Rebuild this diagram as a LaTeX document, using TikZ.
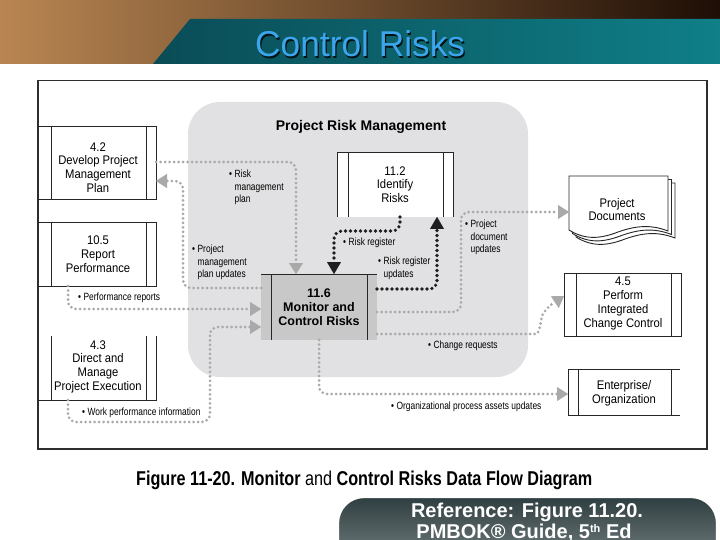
\documentclass[tikz,border=0pt]{standalone}
\usepackage{fontspec}
\setmainfont{Liberation Sans}
\newfontfamily\narrowf[FakeStretch=0.9]{Liberation Sans}
\newfontfamily\lblf[FakeStretch=0.8]{Liberation Sans}
\usetikzlibrary{arrows.meta}
\definecolor{flowgray}{HTML}{A9A9A9}
\definecolor{flowdark}{HTML}{1E1E1E}
\definecolor{regiongray}{HTML}{E1E1E3}
\definecolor{boxgray}{HTML}{C8C8C9}
\definecolor{framecol}{HTML}{2E2E2E}
\definecolor{tealA}{HTML}{0A4C56}
\definecolor{tealB}{HTML}{0F7F88}
\definecolor{titleblue}{HTML}{3CA6EC}
\definecolor{photoA}{HTML}{B98652}
\definecolor{photoB}{HTML}{A4642A}
\definecolor{photoC}{HTML}{1E0E06}
\definecolor{pilltop}{HTML}{2F3E40}
\definecolor{pillbot}{HTML}{9AA6A6}
\newcommand\bulletlabel[1]{\begin{tabular}[t]{@{}l@{\hspace{2.5pt}}l@{}}#1\end{tabular}}
\begin{document}
\begin{tikzpicture}[x=1pt,y=-1pt,
  boxline/.style={draw=black!85,line width=0.9pt},
  boxtext/.style={font=\narrowf\fontsize{12.5}{13.7}\selectfont,align=center,inner sep=0pt},
  boldbox/.style={font=\bfseries\fontsize{12.5}{14}\selectfont,align=center,inner sep=0pt},
  lbl/.style={font=\lblf\fontsize{10.5}{12.5}\selectfont,anchor=base west,inner sep=0pt},
  area/.style={inner sep=0pt,outer sep=0pt,draw=none},
  flow/.style={draw=flowgray,line width=3pt,line cap=round,dash pattern=on 0pt off 4.5pt,rounded corners=8pt,-{Triangle[width=14pt,length=11pt,line width=0.01pt]}},
  flowk/.style={flow,draw=flowdark,line width=3.6pt,dash pattern=on 0pt off 5pt,-{Triangle[width=14pt,length=12pt,line width=0.01pt]}},
]
\useasboundingbox (0,0) rectangle (720,540);
% header
\shade[left color=photoA, middle color=photoB, right color=photoC] (0,0) rectangle (720,64);
\shade[left color=tealA, right color=tealB] (190,19) -- (720,19) -- (720,64) -- (153,64) -- cycle;
\node[anchor=base west, inner sep=0, text=black!75!tealA] (titleshadow) at (256.2,58.2) {\resizebox{210pt}{26pt}{Control Risks}};
\node[anchor=base west, inner sep=0, text=titleblue] (title) at (255,57) {\resizebox{210pt}{26pt}{Control Risks}};
% frame and region
\draw[framecol, line width=1.2pt] (38,80.5) rectangle (707,449);
\fill[regiongray, rounded corners=32pt] (188,102) rectangle (528,377);
\node[font=\bfseries\fontsize{14}{16}\selectfont, inner sep=0] (prm) at (361,127) {Project Risk Management};
% box areas
\node[area, minimum width=118pt, minimum height=73pt] (b42) at (97,162.5) {};
\node[area, minimum width=118pt, minimum height=64pt] (b105) at (97,254) {};
\node[area, minimum width=118pt, minimum height=64pt] (b43) at (97,368) {};
\node[area, minimum width=116pt, minimum height=65pt] (b112) at (395,184.5) {};
\node[area, minimum width=116pt, minimum height=66pt] (b116) at (319,307) {};
\node[area, minimum width=99pt, minimum height=55pt] (docs) at (618.5,203.5) {};
\node[area, minimum width=117pt, minimum height=63pt] (b45) at (622.5,304.5) {};
\node[area, minimum width=112pt, minimum height=46pt] (ent) at (624,392) {};
% 4.2
\draw[boxline] (b42.north west) -- (b42.north east) -- (b42.south east) -- (b42.south west);
\draw[boxline] ([xshift=13pt]b42.north west) -- ([xshift=13pt]b42.south west);
\draw[boxline] ([xshift=-10pt]b42.north east) -- ([xshift=-10pt]b42.south east);
% 10.5
\draw[boxline] (b105.north west) -- (b105.north east) -- (b105.south east) -- (b105.south west);
\draw[boxline] ([xshift=13pt]b105.north west) -- ([xshift=13pt]b105.south west);
\draw[boxline] ([xshift=-10pt]b105.north east) -- ([xshift=-10pt]b105.south east);
% 4.3
\draw[boxline] (b43.north east) -- (b43.south east) -- (b43.south west);
\draw[boxline] ([xshift=13pt]b43.north west) -- ([xshift=13pt]b43.south west);
\draw[boxline] ([xshift=-10pt]b43.north east) -- ([xshift=-10pt]b43.south east);
% 11.2
\fill[white] (b112.north west) rectangle (b112.south east);
\draw[boxline] (b112.south west) -- (b112.north west) -- (b112.north east) -- (b112.south east);
\draw[boxline] ([xshift=11pt]b112.north west) -- ([xshift=11pt]b112.south west);
\draw[boxline] ([xshift=-10pt]b112.north east) -- ([xshift=-10pt]b112.south east);
% 11.6
\fill[boxgray] (b116.north west) rectangle (b116.south east);
\draw[boxline] (b116.north west) -- (b116.north east);
\draw[boxline] ([xshift=10pt]b116.north west) -- ([xshift=10pt]b116.south west);
\draw[boxline] ([xshift=-10pt]b116.north east) -- ([xshift=-10pt]b116.south east);
% project documents
\foreach \s in {7,3.5,0}{
  \draw[boxline, fill=white, shift={(\s,\s)}] (569,176) -- (668,176) -- (668,231) .. controls (650,224) and (635,226) .. (618,232) .. controls (600,239) and (585,240) .. (569,230) -- cycle;
}
% 4.5
\draw[boxline] (b45.north west) rectangle (b45.south east);
\draw[boxline] ([xshift=12pt]b45.north west) -- ([xshift=12pt]b45.south west);
\draw[boxline] ([xshift=-10pt]b45.north east) -- ([xshift=-10pt]b45.south east);
% enterprise
\draw[boxline] (ent.north east) -- (ent.north west) -- (ent.south west) -- (ent.south east);
\draw[boxline] ([xshift=10pt]ent.north west) -- ([xshift=10pt]ent.south west);
\draw[boxline] ([xshift=-9pt]ent.north east) -- ([xshift=-9pt]ent.south east);
% box texts
\node[boxtext] (t42) at (98,167.5) {4.2\\Develop Project\\Management\\Plan};
\node[boxtext] (t105) at (98,254) {10.5\\Report\\Performance};
\node[boxtext] (t43) at (98,366.5) {4.3\\Direct and\\Manage\\Project Execution};
\node[boxtext] (t112) at (395,184.5) {11.2\\Identify\\Risks};
\node[boldbox] (t116) at (319,307) {11.6\\Monitor and\\Control Risks};
\node[boxtext] (tdocs) at (617,209.5) {Project\\Documents};
\node[boxtext] (t45) at (623,303.5) {4.5\\Perform\\Integrated\\Change Control};
\node[boxtext] (tent) at (624,393.5) {Enterprise/\\Organization};
% connectors
\draw[flow] (b42.east |- 0,162) -- (296,162) -- (296,0 |- b116.north);
\draw[flow] (b116.west |- 0,288) -- (183,288) -- (183,181) -- (b42.east |- 0,181);
\draw[flow] (68,0 |- b105.south) -- (68,309) -- (b116.west |- 0,309);
\draw[flow] (68,0 |- b43.south) -- (68,422) -- (210,422) -- (210,327) -- (b116.west |- 0,327);
\draw[flowk] (400,0 |- b112.south) -- (400,231) -- (334,231) -- (334,0 |- b116.north);
\draw[flowk] (b116.east |- 0,289) -- (437,289) -- (437,0 |- b112.south);
\draw[flow] (b116.east |- 0,312) -- (461,312) -- (461,212) -- (docs.west |- 0,212);
\draw[flow] (b116.east |- 0,334) -- (528,334) .. controls (540,334) and (541,318) .. (546,308) -- (b45.west |- 0,296);
\draw[flow] (319,0 |- b116.south) -- (319,394) -- (ent.west |- 0,394);
% labels
\node[lbl] (lrmp) at (229,177.6) {\bulletlabel{\textbullet & Risk\\ & management\\ & plan}};
\node[lbl] (lpmpu) at (192,252.6) {\bulletlabel{\textbullet & Project\\ & management\\ & plan updates}};
\node[lbl] (lpr) at (78,300.6) {\bulletlabel{\textbullet & Performance reports}};
\node[lbl] (lwpi) at (82,415.6) {\bulletlabel{\textbullet & Work performance information}};
\node[lbl] (lrr) at (343,245.6) {\bulletlabel{\textbullet & Risk register}};
\node[lbl] (lrru) at (378,264.6) {\bulletlabel{\textbullet & Risk register\\ & updates}};
\node[lbl] (lpdu) at (465,227.6) {\bulletlabel{\textbullet & Project\\ & document\\ & updates}};
\node[lbl] (lcr) at (428,348.6) {\bulletlabel{\textbullet & Change requests}};
\node[lbl] (lopau) at (391,409.6) {\bulletlabel{\textbullet & Organizational process assets updates}};
% caption
\node[anchor=base west, inner sep=0] (cap) at (136,485) {\resizebox{456pt}{14.5pt}{\bfseries Figure 11-20. Monitor \mdseries and \bfseries Control Risks Data Flow Diagram}};
% reference pill
\shadedraw[top color=pilltop, bottom color=pillbot, draw=white, line width=2.2pt, rounded corners=26pt] (338,497) rectangle (717,600);
\node[font=\bfseries\fontsize{20}{21}\selectfont, text=white, inner sep=0, anchor=base] (ref1) at (527,517.5) {Reference: Figure 11.20.};
\node[font=\bfseries\fontsize{20}{21}\selectfont, text=white, inner sep=0, anchor=base] (ref2) at (524,538.5) {PMBOK\textregistered\ Guide, 5\raisebox{6pt}{\fontsize{11}{11}\selectfont th} Ed};
\end{tikzpicture}
\end{document}
